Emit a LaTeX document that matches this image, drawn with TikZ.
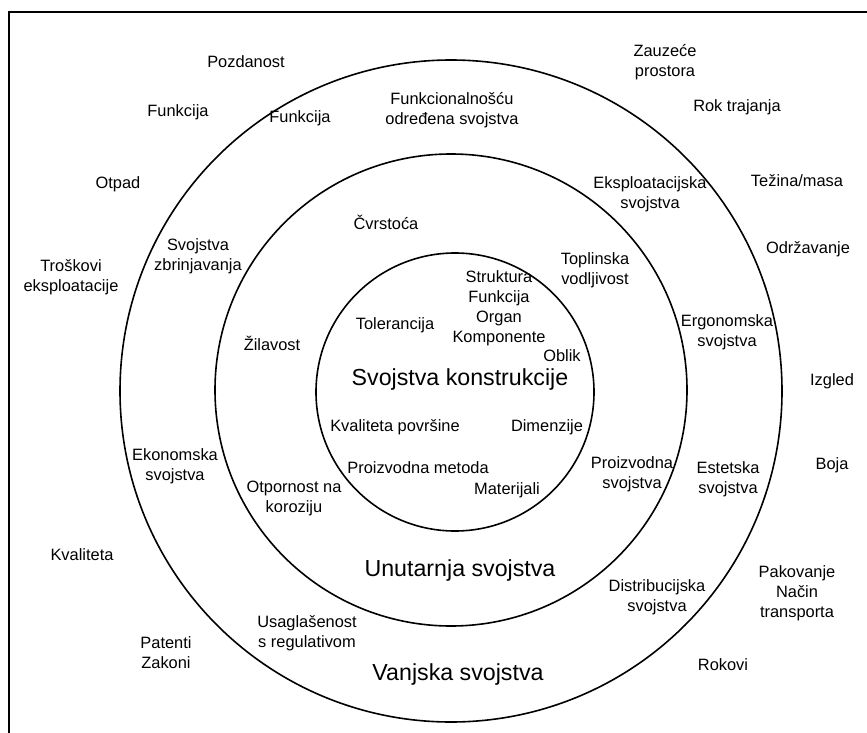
\documentclass[tikz,border=0pt]{standalone}
\usepackage{fontspec}
\setmainfont{Liberation Sans}

\begin{document}
\begin{tikzpicture}[x=1pt, y=-1pt,
    every node/.style={font=\fontsize{16.4}{20}\selectfont, align=center, inner sep=0pt},
    krug/.style={line width=1.6pt},
    okvir/.style={line width=1.6pt},
    naslov/.style={font=\fontsize{23.2}{27}\selectfont}]
    \useasboundingbox (0,0) rectangle (867,733);

    % Okvir (samo lijevo i gore)
    \draw[okvir] (9,733) -- (9,12) -- (867,12);

    % Krugovi
    \draw[krug] (451,391) circle (331);
    \draw[krug] (451,390) circle (236);
    \draw[krug] (455,392) circle (139);

    % Izvan vanjskog kruga
    \node (pozdanost) at (246,62) {Pozdanost};
    \node (zauzece) at (665,62) {Zauzeće\\prostora};
    \node (funkcija1) at (178,112) {Funkcija};
    \node (rok) at (737,107) {Rok trajanja};
    \node (otpad) at (118,184) {Otpad};
    \node (tezina) at (797,181) {Težina/masa};
    \node (odrzavanje) at (808,249) {Održavanje};
    \node (troskovi) at (71,277) {Troškovi\\eksploatacije};
    \node (izgled) at (832,381) {Izgled};
    \node (boja) at (832,465) {Boja};
    \node (kvaliteta) at (82,555) {Kvaliteta};
    \node (pakovanje) at (797,593) {Pakovanje\\Način\\transporta};
    \node (patenti) at (166,653) {Patenti\\Zakoni};
    \node (rokovi) at (723,665) {Rokovi};

    % Vanjska svojstva
    \node (funkc) at (452,110) {Funkcionalnošću\\određena svojstva};
    \node (funkcija2) at (300,118) {Funkcija};
    \node (eksploat) at (650,194) {Eksploatacijska\\svojstva};
    \node (zbrinj) at (198,256) {Svojstva\\zbrinjavanja};
    \node (ergonom) at (727,332) {Ergonomska\\svojstva};
    \node (ekonom) at (175,466) {Ekonomska\\svojstva};
    \node (estet) at (728,479) {Estetska\\svojstva};
    \node (distrib) at (657,597) {Distribucijska\\svojstva};
    \node (usaglas) at (307,633) {Usaglašenost\\s regulativom};
    \node[naslov] (vanjska) at (458,674) {Vanjska svojstva};

    % Unutarnja svojstva
    \node (cvrstoca) at (386,222) {Čvrstoća};
    \node (toplin) at (595,270) {Toplinska\\vodljivost};
    \node (zilavost) at (272,343) {Žilavost};
    \node (proizv) at (632,474) {Proizvodna\\svojstva};
    \node (otpornost) at (294,498) {Otpornost na\\koroziju};
    \node[naslov] (unutarnja) at (460,570) {Unutarnja svojstva};

    % Svojstva konstrukcije
    \node (struktura) at (499,308) {Struktura\\Funkcija\\Organ\\Komponente};
    \node (toleranc) at (395,325) {Tolerancija};
    \node (oblik) at (562,356) {Oblik};
    \node[naslov] (konstr) at (460,379) {Svojstva konstrukcije};
    \node (povrsina) at (395,427) {Kvaliteta površine};
    \node (dimenzije) at (547,427) {Dimenzije};
    \node (metoda) at (418,468) {Proizvodna metoda};
    \node (materijali) at (507,490) {Materijali};
\end{tikzpicture}
\end{document}
